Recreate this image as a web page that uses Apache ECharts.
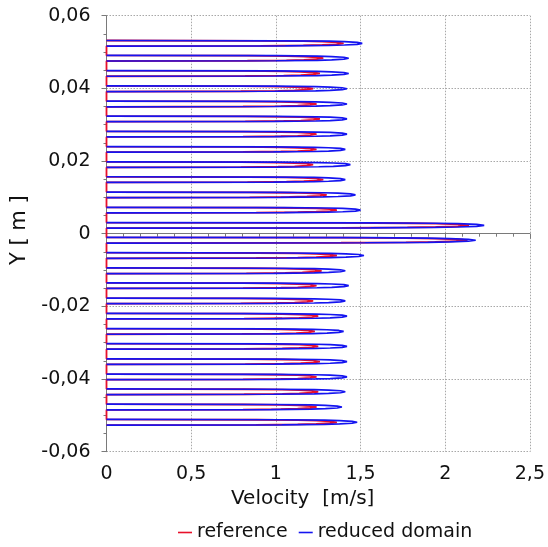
<!DOCTYPE html>
<html>
<head>
<meta charset="utf-8">
<script src="https://cdn.jsdelivr.net/npm/echarts@6/dist/echarts.min.js"></script>
<style>
  html, body { margin: 0; padding: 0; background: #fff; }
  #chart { width: 548px; height: 547px; }
</style>
</head>
<body>
<div id="chart"></div>
<script>
// Channel centre positions across the section, top to bottom [m]
const channelY = [
  0.0524, 0.0483, 0.0441, 0.0399, 0.0357, 0.0316, 0.0274, 0.0232, 0.0190,
  0.0149, 0.0107, 0.0065, 0.0023, -0.0018, -0.0060, -0.0102, -0.0143,
  -0.0185, -0.0227, -0.0269, -0.0310, -0.0352, -0.0394, -0.0435, -0.0477, -0.0519
];
// Channel half-height [m]
const channelHalf = 0.00077;

// Peak velocity in each channel [m/s]
const peakReference = [
  1.40, 1.28, 1.26, 1.22, 1.24, 1.26, 1.24, 1.24, 1.22, 1.28, 1.30, 1.36, 2.14,
  2.13, 1.36, 1.27, 1.24, 1.22, 1.25, 1.23, 1.25, 1.26, 1.24, 1.25, 1.24, 1.36
];
const peakReduced = [
  1.51, 1.43, 1.43, 1.42, 1.42, 1.42, 1.42, 1.41, 1.44, 1.41, 1.47, 1.50, 2.23,
  2.18, 1.52, 1.41, 1.43, 1.41, 1.42, 1.40, 1.42, 1.42, 1.42, 1.41, 1.39, 1.48
];

// Velocity profile across one channel: offset from centre (fraction of half-height)
// and velocity (fraction of the channel peak)
const profileOffset    = [1, 0.9, 0.75, 0.6, 0.35, 0, -0.35, -0.6, -0.75, -0.9, -1];
const profileReduced   = [0, 0.70, 0.87, 0.93, 0.98, 1, 0.98, 0.93, 0.87, 0.70, 0];
const profileReference = [0, 0.65, 0.83, 0.91, 0.97, 1, 0.97, 0.91, 0.83, 0.65, 0];

// Tick labels
const xTicks = [0, 0.5, 1, 1.5, 2, 2.5];
const yTicks = [-0.06, -0.04, -0.02, 0, 0.02, 0.04, 0.06];

// Reference: one continuous trace, solid walls at zero velocity between channels.
function buildReference() {
  const pts = [];
  channelY.forEach((yc, i) => {
    profileOffset.forEach((s, j) => {
      pts.push([peakReference[i] * profileReference[j], yc + s * channelHalf]);
    });
  });
  return pts;
}
// Reduced domain: fluid channels only, broken across the solid walls.
function buildReduced() {
  const pts = [];
  channelY.forEach((yc, i) => {
    if (i > 0) pts.push(['-', '-']);
    profileOffset.forEach((s, j) => {
      pts.push([peakReduced[i] * profileReduced[j], yc + s * channelHalf]);
    });
  });
  return pts;
}

const comma = v => String(v).replace('.', ',');
const fontFamily = "'DejaVu Sans', Verdana, sans-serif";
const gridLine = { show: true, lineStyle: { color: '#a8a8a8', type: [1.5, 1.5], width: 1 } };

const chart = echarts.init(document.getElementById('chart'), null, { renderer: 'canvas' });
chart.setOption({
  animation: false,
  backgroundColor: '#ffffff',
  textStyle: { fontFamily },
  grid: { left: 106.5, right: 17.5, top: 15.7, bottom: 95.3, containLabel: false },
  legend: {
    left: 173, top: 518,
    itemWidth: 14, itemHeight: 1.6, itemGap: 11,
    icon: 'rect',
    textStyle: { fontSize: 19, color: '#111', fontFamily },
    data: ['reference', 'reduced domain']
  },
  xAxis: {
    type: 'value',
    min: xTicks[0], max: xTicks[xTicks.length - 1], interval: 0.5,
    offset: 4,
    name: 'Velocity  [m/s]',
    nameLocation: 'middle', nameGap: 33,
    nameTextStyle: { fontSize: 20, color: '#111', fontFamily, padding: [0, 31, 0, 0] },
    axisLine: { show: true, lineStyle: { color: '#7a7a7a', width: 1 } },
    axisTick: { show: true, length: 5, lineStyle: { color: '#7a7a7a' } },
    minorTick: { show: true, splitNumber: 5, length: 3, lineStyle: { color: '#7a7a7a' } },
    axisLabel: { fontSize: 19, color: '#111', margin: 9, formatter: v => comma(v), fontFamily },
    splitLine: gridLine
  },
  yAxis: {
    type: 'value',
    min: yTicks[0], max: yTicks[yTicks.length - 1], interval: 0.02,
    offset: 10,
    name: 'Y [ m ]',
    nameLocation: 'middle', nameGap: 59,
    nameTextStyle: { fontSize: 21, color: '#111', fontFamily, padding: [0, 0, 0, 7] },
    axisLine: { show: true, lineStyle: { color: '#7a7a7a', width: 1 } },
    axisTick: { show: true, length: 5, lineStyle: { color: '#7a7a7a' } },
    minorTick: { show: true, splitNumber: 4, length: 3, lineStyle: { color: '#7a7a7a' } },
    axisLabel: {
      fontSize: 19, color: '#111', margin: 6, fontFamily,
      formatter: v => Math.abs(v) < 1e-9 ? '0' : v.toFixed(2).replace('.', ',')
    },
    splitLine: gridLine
  },
  series: [
    {
      name: 'reference', type: 'line',
      data: buildReference(),
      symbol: 'none', showSymbol: false,
      clip: false,
      itemStyle: { color: '#e8102a' },
      lineStyle: { color: '#e8102a', width: 1.8 }
    },
    {
      name: 'reduced domain', type: 'line',
      data: buildReduced(),
      connectNulls: false,
      clip: false,
      symbol: 'none', showSymbol: false,
      itemStyle: { color: '#1414f0' },
      lineStyle: { color: '#1414f0', width: 1.7 }
    }
  ]
});
</script>
</body>
</html>
